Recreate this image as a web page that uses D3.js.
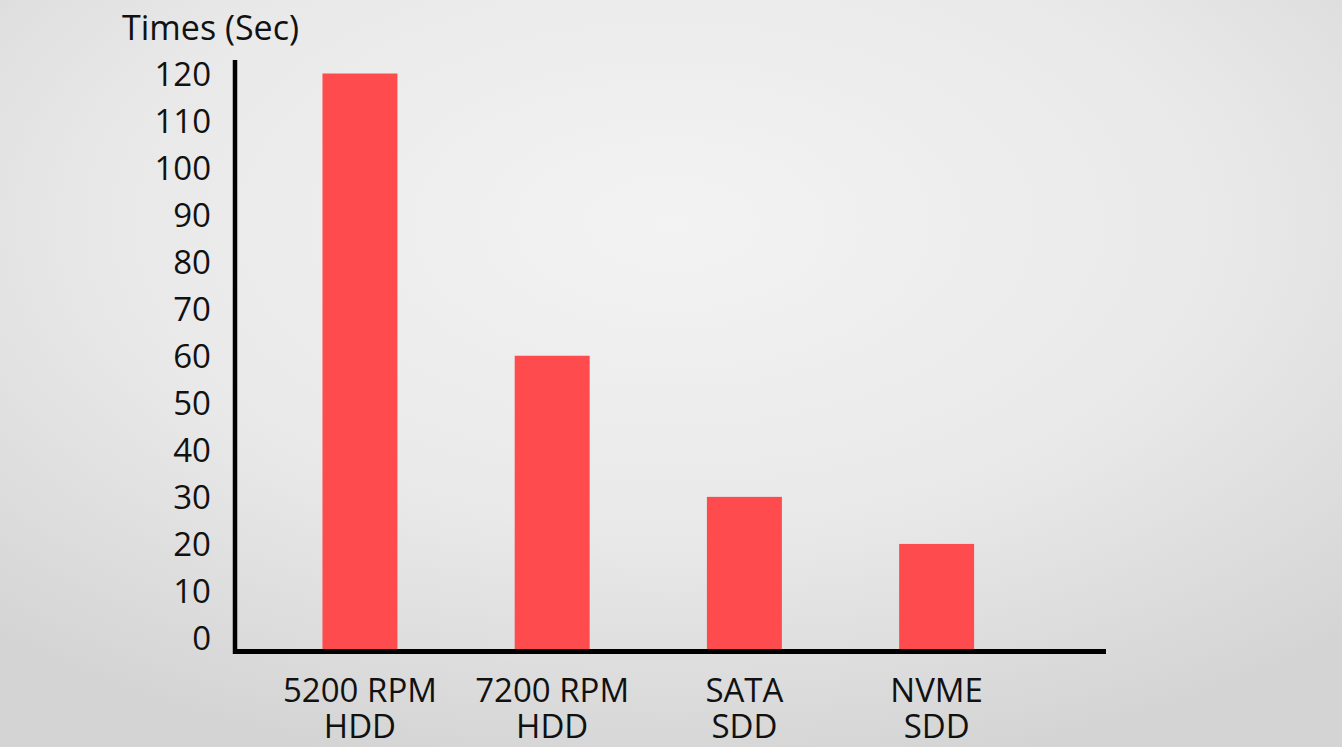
<!DOCTYPE html>
<html>
<head>
<meta charset="utf-8">
<script src="https://cdn.jsdelivr.net/npm/d3@7"></script>
<style>
  html, body { margin: 0; padding: 0; overflow: hidden; }
  svg { display: block; }
</style>
</head>
<body>
<svg id="chart" width="1342" height="747"></svg>
<script>
// ---- data ----
const categoryLine1 = ["5200 RPM", "7200 RPM", "SATA", "NVME"];
const categoryLine2 = ["HDD", "HDD", "SDD", "SDD"];
const values = [120, 60, 30, 20];
const yTicks = [0, 10, 20, 30, 40, 50, 60, 70, 80, 90, 100, 110, 120];
const yTitle = "Times (Sec)";

const W = 1342, H = 747;
const svg = d3.select("#chart");
const font = "'Open Sans', 'Noto Sans', sans-serif";

// background
const defs = svg.append("defs");
const g1 = defs.append("radialGradient").attr("id", "bg")
  .attr("cx", "0.5").attr("cy", "0.3").attr("r", "0.75");
g1.append("stop").attr("offset", "0").attr("stop-color", "#f3f3f3");
g1.append("stop").attr("offset", "0.55").attr("stop-color", "#e9e9e9");
g1.append("stop").attr("offset", "1").attr("stop-color", "#d4d4d4");
svg.append("rect").attr("width", W).attr("height", H).attr("fill", "url(#bg)");

// layout
const axisX = 235, axisY = 651.5, axisTop = 60, axisRight = 1106;

const x = d3.scaleBand()
  .domain(d3.range(values.length))
  .range([axisX + 1, axisRight])
  .paddingInner(0.61)
  .paddingOuter(0.568)
  .align(0.396);

const y = d3.scaleLinear().domain([0, 120]).range([638, 73.5]);

// bars
svg.append("g").selectAll("rect")
  .data(values)
  .join("rect")
  .attr("x", (d, i) => x(i))
  .attr("width", x.bandwidth())
  .attr("y", d => y(d))
  .attr("height", d => axisY - y(d))
  .attr("fill", "#fe4c4e");

// y tick labels via axis
const yAxis = d3.axisLeft(y).tickValues(yTicks).tickSize(0).tickPadding(0);
const ya = svg.append("g").attr("transform", `translate(211,1)`).call(yAxis);
ya.select(".domain").remove();
ya.selectAll("text")
  .attr("font-family", font)
  .attr("font-size", 33)
  .attr("fill", "#111");

// axis lines
svg.append("line")
  .attr("x1", axisX).attr("x2", axisX)
  .attr("y1", axisTop).attr("y2", axisY + 2.5)
  .attr("stroke", "#000").attr("stroke-width", 4.5);
svg.append("line")
  .attr("x1", axisX - 2).attr("x2", axisRight)
  .attr("y1", axisY).attr("y2", axisY)
  .attr("stroke", "#000").attr("stroke-width", 5);

// y title
svg.append("text")
  .attr("x", 122).attr("y", 40)
  .attr("font-family", font).attr("font-size", 34)
  .attr("fill", "#111")
  .text(yTitle);

// category labels (two separate lines)
[categoryLine1, categoryLine2].forEach((lines, k) => {
  svg.append("g").selectAll("text")
    .data(lines)
    .join("text")
    .attr("x", (d, i) => x(i) + x.bandwidth() / 2)
    .attr("y", 702 + k * 36)
    .attr("text-anchor", "middle")
    .attr("font-family", font)
    .attr("font-size", 33)
    .attr("fill", "#111")
    .text(d => d);
});
</script>
</body>
</html>
